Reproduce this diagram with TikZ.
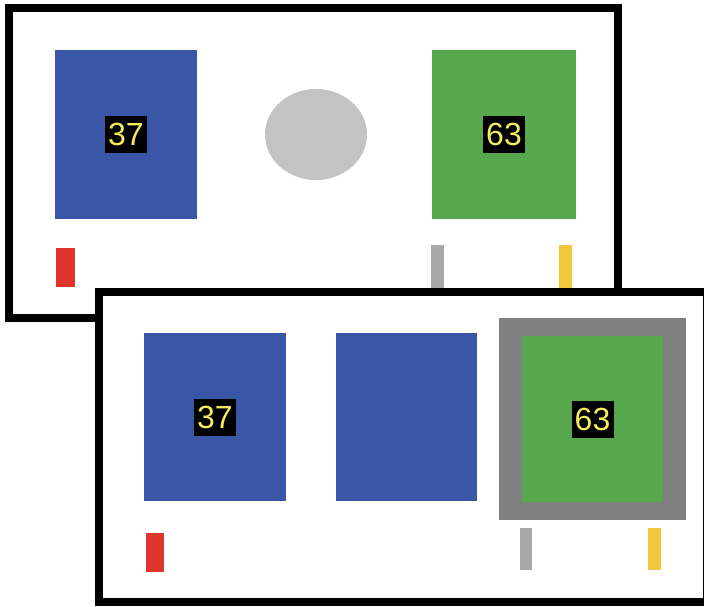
\documentclass[tikz,border=0pt]{standalone}
\usepackage{fontspec}
\setmainfont{Liberation Sans}
\usetikzlibrary{positioning}
\definecolor{cardblue}{RGB}{58,86,166}
\definecolor{cardgreen}{RGB}{87,168,77}
\definecolor{discgray}{RGB}{195,195,195}
\definecolor{rimgray}{RGB}{128,128,128}
\definecolor{bargray}{RGB}{168,168,168}
\definecolor{barred}{RGB}{224,53,43}
\definecolor{baryellow}{RGB}{243,200,64}
\definecolor{numyellow}{RGB}{242,238,90}

\begin{document}
\begin{tikzpicture}[x=1pt,y=-1pt,
  panel/.style={draw=black,fill=white,line width=8pt},
  card/.style={rectangle,inner sep=0pt,minimum width=142pt,minimum height=168pt},
  num/.style={fill=black,text=numyellow,inner sep=0pt,minimum width=42pt,minimum height=37pt,
    font=\fontsize{32}{32}\selectfont},
  bar/.style={rectangle,inner sep=0pt,minimum width=13pt,minimum height=42pt}]
  \useasboundingbox (0,0) rectangle (704,606);
  \draw[panel] (9,8) rectangle (618,318);
  \node[card,fill=cardblue,minimum height=169pt] (blueA) at (126,134.5) {};
  \node[num] (numA) at (blueA) {37};
  \fill[discgray] (316,134.5) circle[x radius=51pt,y radius=45.5pt];
  \node[card,fill=cardgreen,minimum width=144pt,minimum height=169pt] (greenA) at (504,134.5) {};
  \node[num] (numB) at (greenA) {63};
  \node[bar,fill=barred,minimum width=19pt,minimum height=39pt] (redA) at (65.5,267.5) {};
  \node[bar,fill=bargray,minimum height=48pt] (grayA) at (437.5,269) {};
  \node[bar,fill=baryellow,minimum height=48pt] (yellowA) at (565.5,269) {};
  \draw[panel] (99,292) rectangle (707,602);
  \node[card] [fill=cardblue] (blueC) at (215,417) {};
  \node[num] (numC) at (blueC) {37};
  \node[card,fill=cardblue,minimum width=141pt] (blueD) at (406.5,416.5) {};
  \node[rectangle,fill=rimgray,minimum width=187pt,minimum height=202pt] (rim) at (592.5,419) {};
  \node[card,fill=cardgreen,minimum width=141pt,minimum height=166pt] (greenC) at (rim) {};
  \node[num] (numD) at (greenC) {63};
  \node[bar,fill=barred,minimum width=18pt,minimum height=39pt] (redC) at (155,552.5) {};
  \node[bar,fill=bargray,minimum width=12pt] (grayC) at (526,549) {};
  \node[bar,fill=baryellow] (yellowC) at (654.5,549) {};
\end{tikzpicture}
\end{document}
